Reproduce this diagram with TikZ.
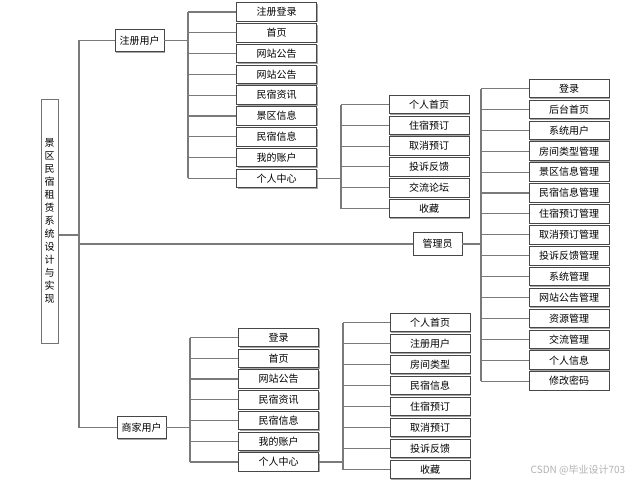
\documentclass[tikz,border=0pt]{standalone}
\usepackage{fontspec}
\newfontfamily\cjk{Noto Sans CJK SC}
\usetikzlibrary{shadows}
\begin{document}
\begin{tikzpicture}[x=0.75pt,y=-0.75pt,
  conn/.style={draw=black!52, line width=0.85pt, line cap=square},
  box/.style={draw=black!72, line width=0.7pt, fill=white, inner sep=0pt,
    font=\cjk\fontsize{7.5}{9}\selectfont,
    drop shadow={shadow xshift=0.8pt, shadow yshift=-0.8pt, fill=black!35, opacity=1}},
  leaf/.style={box, minimum width=60pt, minimum height=13.9pt},
  role/.style={box, minimum width=36.75pt, minimum height=17pt},
]
\useasboundingbox (0,0) rectangle (641,482);
\fill[white] (0,0) rectangle (641,482);

% root box with vertical title
\node[box, draw=black!55, minimum width=12.75pt, minimum height=183pt, align=center,
      font=\cjk\fontsize{7.5}{9.75}\selectfont] (root) at (49.5,221)
  {景\\区\\民\\宿\\租\\赁\\系\\统\\设\\计\\与\\实\\现};

% user roles
\node[role] (zc) at (139.5,40.5) {注册用户};
\node[role] (gl) at (437.5,244) {管理员};
\node[role] (sj) at (141.5,427.5) {商家用户};

% registered user functions
\foreach \t [count=\i] in {注册登录,首页,网站公告,网站公告,民宿资讯,景区信息,民宿信息,我的账户,个人中心}
  \node[leaf] (a\i) at (276.5,{12+20.8*(\i-1)}) {\t};
\foreach \t [count=\i] in {个人首页,住宿预订,取消预订,投诉反馈,交流论坛,收藏}
  \node[leaf] (p\i) at (429,{104.5+20.8*(\i-1)}) {\t};

% administrator functions
\foreach \t [count=\i] in {登录,后台首页,系统用户,房间类型管理,景区信息管理,民宿信息管理,住宿预订管理,取消预订管理,投诉反馈管理,系统管理,网站公告管理,资源管理,交流管理,个人信息,修改密码}
  \node[leaf] (g\i) at (569,{88.5+20.9*(\i-1)}) {\t};

% merchant functions
\foreach \t [count=\i] in {登录,首页,网站公告,民宿资讯,民宿信息,我的账户,个人中心}
  \node[leaf] (s\i) at (278.5,{337.5+20.75*(\i-1)}) {\t};
\foreach \t [count=\i] in {个人首页,注册用户,房间类型,民宿信息,住宿预订,取消预订,投诉反馈,收藏}
  \node[leaf] (q\i) at (430,{322.5+21*(\i-1)}) {\t};

% bus positions
\coordinate (t0) at (79,0);
\coordinate (b1) at (188,0);
\coordinate (b2) at (341,0);
\coordinate (b3) at (481,0);
\coordinate (b4) at (190,0);
\coordinate (b5) at (343,0);
\coordinate (rootout) at ([yshift=-10.5pt]root.east);

% trunk from the title box to the roles
\draw[conn] (rootout) -- (t0 |- rootout);
\draw[conn] (zc.west) -| (t0 |- sj.west) -- (sj.west);
\draw[conn] (t0 |- gl.west) -- (gl.west);

% registered user tree
\draw[conn] (zc.east) -- (b1 |- zc.east);
\draw[conn] (b1 |- a1.west) -- (b1 |- a9.west);
\foreach \i in {1,...,9} \draw[conn] (b1 |- a\i.west) -- (a\i.west);
\draw[conn] (a9.east) -- (b2 |- a9.east);
\draw[conn] (b2 |- p1.west) -- (b2 |- p6.west);
\foreach \i in {1,...,6} \draw[conn] (b2 |- p\i.west) -- (p\i.west);

% administrator tree
\draw[conn] (gl.east) -- (b3 |- gl.east);
\draw[conn] (b3 |- g1.west) -- (b3 |- g15.west);
\foreach \i in {1,...,15} \draw[conn] (b3 |- g\i.west) -- (g\i.west);

% merchant tree
\draw[conn] (sj.east) -- (b4 |- sj.east);
\draw[conn] (b4 |- s1.west) -- (b4 |- s7.west);
\foreach \i in {1,...,7} \draw[conn] (b4 |- s\i.west) -- (s\i.west);
\draw[conn] (s7.east) -- (b5 |- s7.east);
\draw[conn] (b5 |- q1.west) -- (b5 |- q8.west);
\foreach \i in {1,...,8} \draw[conn] (b5 |- q\i.west) -- (q\i.west);

% watermark
\node[font=\cjk\fontsize{7.5}{9}\selectfont, text=black!30, inner sep=0pt] (wm) at (578,470) {CSDN @毕业设计703};
\end{tikzpicture}
\end{document}
